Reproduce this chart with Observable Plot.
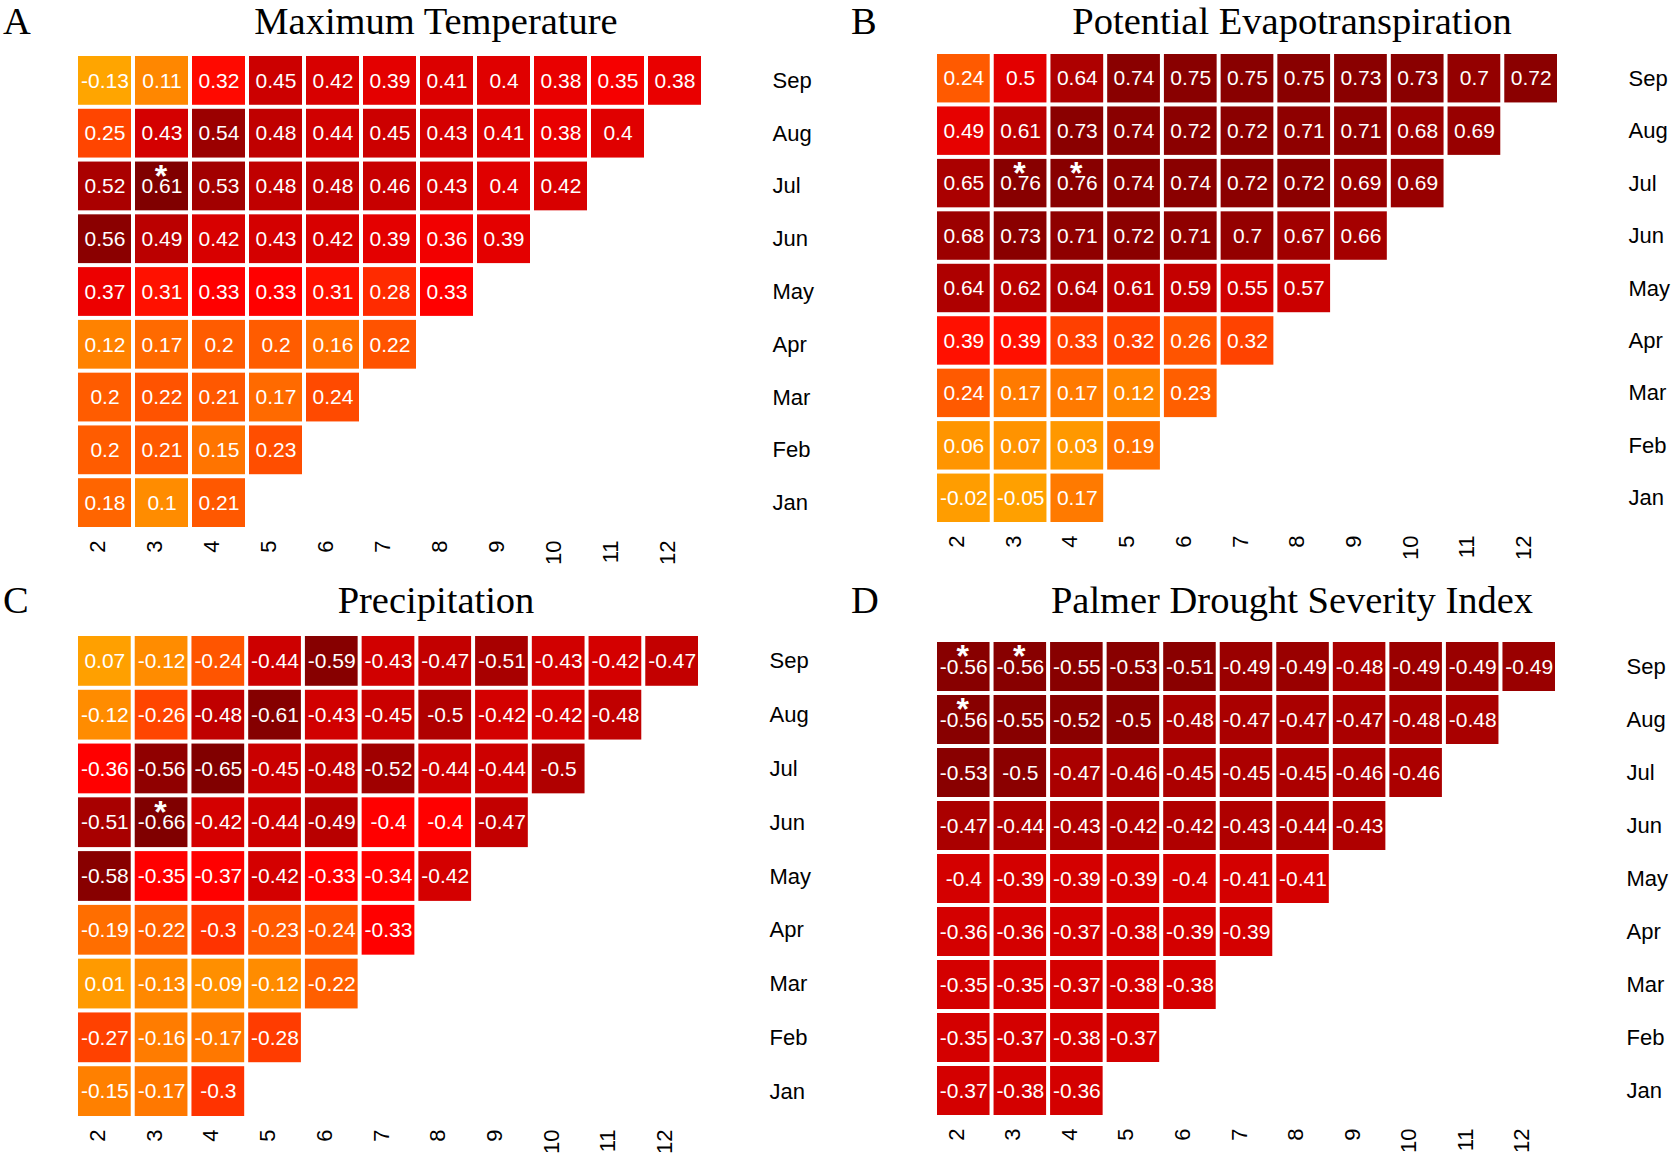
<!DOCTYPE html>
<html><head><meta charset="utf-8">
<script src="https://cdn.jsdelivr.net/npm/d3@7"></script>
<script src="https://cdn.jsdelivr.net/npm/@observablehq/plot@0.6"></script>
<style>
body{margin:0;background:#fff;}
#root{position:relative;width:1675px;height:1157px;overflow:hidden;background:#fff;}
.panel{position:absolute;}
.title{position:absolute;font-family:"Liberation Serif","Times New Roman",serif;font-size:38.5px;line-height:34px;white-space:nowrap;color:#000;}
</style></head><body><div id="root"></div>
<script>
// Row labels (top to bottom) and column labels
const months = ["Sep","Aug","Jul","Jun","May","Apr","Mar","Feb","Jan"];
const lags = [2,3,4,5,6,7,8,9,10,11,12];

// Panel A: Maximum Temperature (rows follow `months`, columns start at lag 2)
const tmaxValues = [
  [-0.13,0.11,0.32,0.45,0.42,0.39,0.41,0.4,0.38,0.35,0.38],
  [0.25,0.43,0.54,0.48,0.44,0.45,0.43,0.41,0.38,0.4],
  [0.52,0.61,0.53,0.48,0.48,0.46,0.43,0.4,0.42],
  [0.56,0.49,0.42,0.43,0.42,0.39,0.36,0.39],
  [0.37,0.31,0.33,0.33,0.31,0.28,0.33],
  [0.12,0.17,0.2,0.2,0.16,0.22],
  [0.2,0.22,0.21,0.17,0.24],
  [0.2,0.21,0.15,0.23],
  [0.18,0.1,0.21]
];
const tmaxStars = [["Jul",3]];

// Panel B: Potential Evapotranspiration
const petValues = [
  [0.24,0.5,0.64,0.74,0.75,0.75,0.75,0.73,0.73,0.7,0.72],
  [0.49,0.61,0.73,0.74,0.72,0.72,0.71,0.71,0.68,0.69],
  [0.65,0.76,0.76,0.74,0.74,0.72,0.72,0.69,0.69],
  [0.68,0.73,0.71,0.72,0.71,0.7,0.67,0.66],
  [0.64,0.62,0.64,0.61,0.59,0.55,0.57],
  [0.39,0.39,0.33,0.32,0.26,0.32],
  [0.24,0.17,0.17,0.12,0.23],
  [0.06,0.07,0.03,0.19],
  [-0.02,-0.05,0.17]
];
const petStars = [["Jul",3],["Jul",4]];

// Panel C: Precipitation
const precValues = [
  [0.07,-0.12,-0.24,-0.44,-0.59,-0.43,-0.47,-0.51,-0.43,-0.42,-0.47],
  [-0.12,-0.26,-0.48,-0.61,-0.43,-0.45,-0.5,-0.42,-0.42,-0.48],
  [-0.36,-0.56,-0.65,-0.45,-0.48,-0.52,-0.44,-0.44,-0.5],
  [-0.51,-0.66,-0.42,-0.44,-0.49,-0.4,-0.4,-0.47],
  [-0.58,-0.35,-0.37,-0.42,-0.33,-0.34,-0.42],
  [-0.19,-0.22,-0.3,-0.23,-0.24,-0.33],
  [0.01,-0.13,-0.09,-0.12,-0.22],
  [-0.27,-0.16,-0.17,-0.28],
  [-0.15,-0.17,-0.3]
];
const precStars = [["Jun",3]];

// Panel D: Palmer Drought Severity Index
const pdsiValues = [
  [-0.56,-0.56,-0.55,-0.53,-0.51,-0.49,-0.49,-0.48,-0.49,-0.49,-0.49],
  [-0.56,-0.55,-0.52,-0.5,-0.48,-0.47,-0.47,-0.47,-0.48,-0.48],
  [-0.53,-0.5,-0.47,-0.46,-0.45,-0.45,-0.45,-0.46,-0.46],
  [-0.47,-0.44,-0.43,-0.42,-0.42,-0.43,-0.44,-0.43],
  [-0.4,-0.39,-0.39,-0.39,-0.4,-0.41,-0.41],
  [-0.36,-0.36,-0.37,-0.38,-0.39,-0.39],
  [-0.35,-0.35,-0.37,-0.38,-0.38],
  [-0.35,-0.37,-0.38,-0.37],
  [-0.37,-0.38,-0.36]
];
const pdsiStars = [["Sep",2],["Sep",3],["Aug",2]];

const panels = [
  {letter:"A", title:"Maximum Temperature", values:tmaxValues, stars:tmaxStars,
   left:0, top:0, width:837, height:578, mt:54, mb:49, ml:76, mr:134, titleX:436, titleTop:4,
   cDomain:[-0.13,0.1,0.17,0.25,0.33,0.4,0.48,0.52,0.56,0.61],
   cRange:["#FFA500","#FF8C00","#FF6A00","#FF4500","#FF0000","#E00000","#C00000","#AA0000","#8B0000","#800000"]},
  {letter:"B", title:"Potential Evapotranspiration", values:petValues, stars:petStars,
   left:859, top:0, width:816, height:578, mt:52, mb:54, ml:76, mr:116, titleX:1292, titleTop:4,
   cDomain:[-0.05,0.06,0.17,0.24,0.33,0.39,0.5,0.6,0.66,0.72,0.76],
   cRange:["#FFA000","#FF9500","#FF7A00","#FF5A00","#FF4000","#FF1000","#E30000","#C00000","#A50000","#8B0000","#880000"]},
  {letter:"C", title:"Precipitation", values:precValues, stars:precStars,
   left:0, top:580, width:837, height:577, mt:54, mb:39, ml:76, mr:137, titleX:436, titleTop:583,
   cDomain:[0.07,-0.12,-0.17,-0.24,-0.26,-0.3,-0.33,-0.4,-0.42,-0.48,-0.52,-0.58,-0.66],
   cRange:["#FFA000","#FF8C00","#FF7800","#FF5500","#FF4500","#FF3300","#FF0000","#FF0000","#D40000","#C00000","#A00000","#880000","#800000"]},
  {letter:"D", title:"Palmer Drought Severity Index", values:pdsiValues, stars:pdsiStars,
   left:859, top:580, width:816, height:577, mt:60, mb:40, ml:76, mr:118, titleX:1292, titleTop:583,
   cDomain:[-0.35,-0.41,-0.42,-0.485,-0.495,-0.56],
   cRange:["#D40000","#D40000","#B00000","#A80000","#8B0000","#880000"]}
];

const root = document.getElementById("root");

for (const p of panels) {
  const data = [];
  p.values.forEach((row, i) => row.forEach((v, j) => data.push({month: months[i], lag: lags[j], value: v})));
  const stars = p.stars.map(([m, l]) => ({month: m, lag: l}));

  const chart = Plot.plot({
    width: p.width, height: p.height,
    marginTop: p.mt, marginBottom: p.mb, marginLeft: p.ml, marginRight: p.mr,
    style: {fontFamily: "'Liberation Sans', Arial, sans-serif", background: "white", color: "black"},
    x: {type: "band", domain: lags, padding: 0, round: false},
    y: {type: "band", domain: months, padding: 0, round: false},
    color: {type: "linear", domain: p.cDomain, range: p.cRange, interpolate: "rgb"},
    marks: [
      Plot.cell(data, {x: "lag", y: "month", fill: "value", inset: 2}),
      Plot.text(data, {x: "lag", y: "month", text: d => String(d.value), fill: "white", fontSize: 21}),
      Plot.text(stars, {x: "lag", y: "month", text: () => "*", fill: "white", fontSize: 32, fontWeight: "bold", dy: -10, dx: -1}),
      Plot.axisX({anchor: "bottom", tickSize: 0, tickPadding: 11, tickRotate: -90, fontSize: 22, label: null, dx: -7}),
      Plot.axisY({anchor: "right", tickSize: 0, tickPadding: 69, fontSize: 22, label: null})
    ]
  });
  const wrap = document.createElement("div");
  wrap.className = "panel";
  wrap.style.left = p.left + "px";
  wrap.style.top = p.top + "px";
  wrap.appendChild(chart);
  root.appendChild(wrap);

  const letter = document.createElement("div");
  letter.className = "title";
  letter.textContent = p.letter;
  letter.style.left = (p.left === 0 ? 3 : 851) + "px";
  letter.style.top = p.titleTop + "px";
  root.appendChild(letter);

  const title = document.createElement("div");
  title.className = "title";
  title.textContent = p.title;
  title.style.left = p.titleX + "px";
  title.style.top = p.titleTop + "px";
  title.style.transform = "translateX(-50%)";
  root.appendChild(title);
}
</script></body></html>
